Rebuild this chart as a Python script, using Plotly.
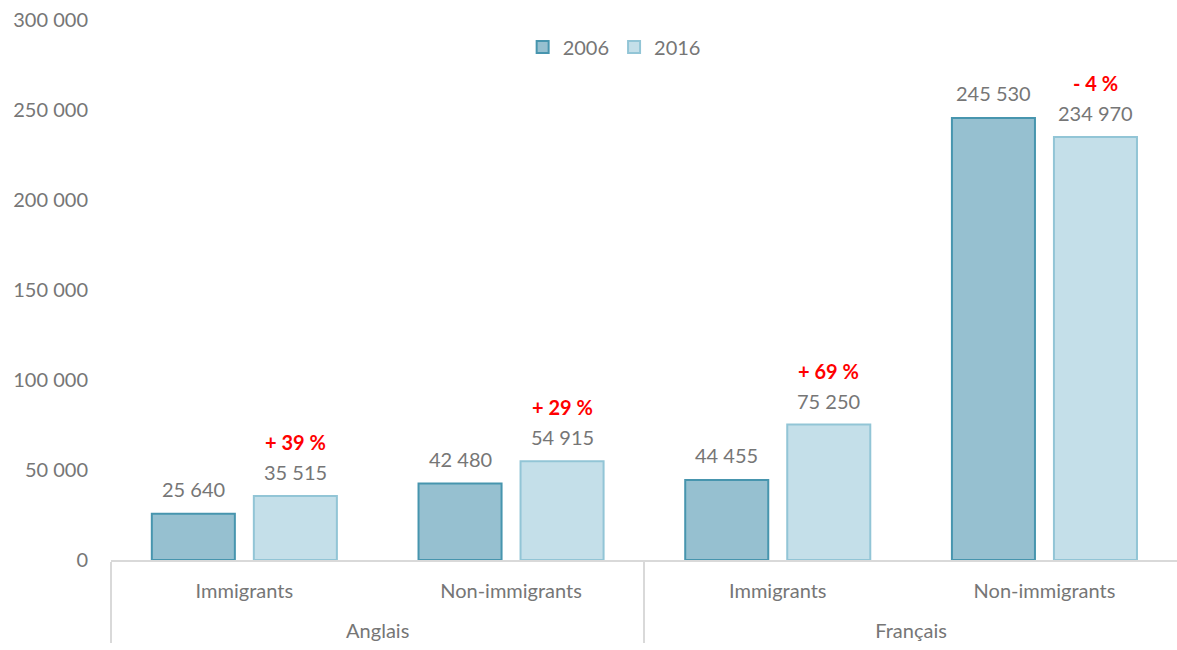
import plotly.graph_objects as go

langues = ["Anglais", "Anglais", "Français", "Français"]
statuts = ["Immigrants", "Non-immigrants", "Immigrants", "Non-immigrants"]
v2006 = [25640, 42480, 44455, 245530]
v2016 = [35515, 54915, 75250, 234970]
variations = ["+ 39 %", "+ 29 %", "+ 69 %", "- 4 %"]

FONT = "Lato"
GRAY = "#767676"
BARGAP = 0.235
GROUPGAP = 0.186

# leading line break pushes the language level lower, as in the original
langues_lbl = ["<br>" + l for l in langues]

fig = go.Figure()
fig.add_trace(go.Bar(
    name="2006", x=[langues_lbl, statuts], y=v2006,
    marker=dict(color="#96c0d0", line=dict(color="#4795ae", width=2)),
    hoverinfo="y",
))
fig.add_trace(go.Bar(
    name="2016", x=[langues_lbl, statuts], y=v2016,
    marker=dict(color="#c4dfe9", line=dict(color="#92c5d6", width=2)),
    hoverinfo="y",
))


def fmt(v):
    return f"{v:,}".replace(",", " ")


off = (1 - BARGAP) / 4
ann = []
for i in range(len(statuts)):
    ann.append(dict(x=i - off, y=v2006[i], xref="x2", yref="y", text=fmt(v2006[i]),
                    showarrow=False, yanchor="middle", yshift=25,
                    font=dict(family=FONT, size=20, color=GRAY)))
    ann.append(dict(x=i + off, y=v2016[i], xref="x2", yref="y", text=fmt(v2016[i]),
                    showarrow=False, yanchor="middle", yshift=24,
                    font=dict(family=FONT, size=20, color=GRAY)))
    ann.append(dict(x=i + off, y=v2016[i], xref="x2", yref="y", text=f"<b>{variations[i]}</b>",
                    showarrow=False, yanchor="middle", yshift=54,
                    font=dict(family=FONT, size=20, color="#ff0000")))

XR = [-0.5, 3.497]
fig.update_layout(
    width=1177, height=650,
    margin=dict(l=111, r=0, t=20, b=90),
    paper_bgcolor="white", plot_bgcolor="white",
    barmode="group", bargap=BARGAP, bargroupgap=GROUPGAP,
    separators=", ",
    font=dict(family=FONT, size=20, color=GRAY),
    showlegend=True,
    legend=dict(orientation="h", x=0.472, y=0.95, xanchor="center", yanchor="middle",
                font=dict(family=FONT, size=20, color=GRAY), itemwidth=30),
    xaxis=dict(type="multicategory", range=XR, showline=True, linecolor="#d9d9d9", linewidth=1.5,
               showdividers=True, dividercolor="#d9d9d9", dividerwidth=1.5,
               ticks="", ticklabelstandoff=12,
               tickfont=dict(family=FONT, size=20, color=GRAY),
               showgrid=False, zeroline=False),
    xaxis2=dict(overlaying="x", range=XR, visible=False, showgrid=False),
    yaxis=dict(range=[0, 300000], dtick=50000, tickformat=",d", showgrid=False,
               zeroline=False, showline=False, ticks="", ticklabelstandoff=22,
               tickfont=dict(family=FONT, size=20, color=GRAY)),
    annotations=ann,
)
fig.write_html("out.html")
